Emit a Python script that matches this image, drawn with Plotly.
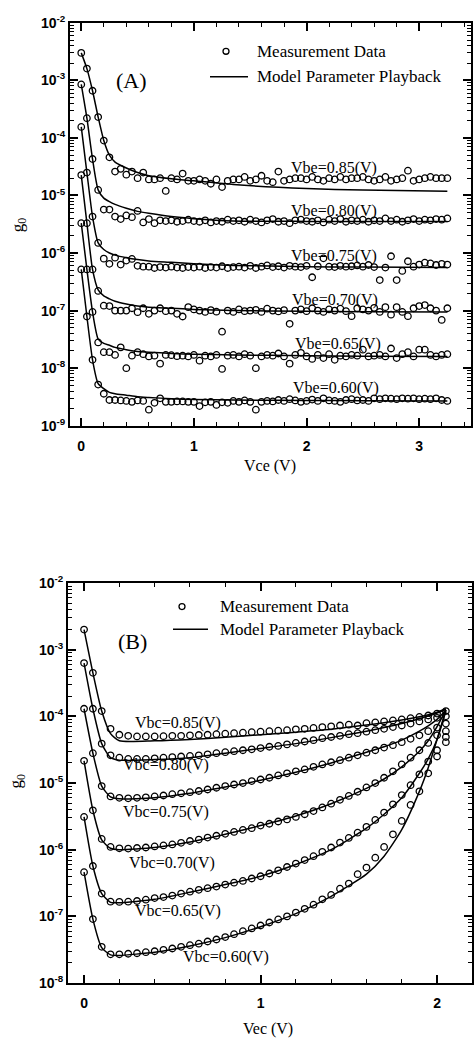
import plotly.graph_objects as go

# ---------------- data: panel (A) ----------------
VCE = [0.00, 0.05, 0.10, 0.15, 0.20, 0.25, 0.30, 0.35, 0.40, 0.45,
       0.50, 0.55, 0.60, 0.65, 0.70, 0.75, 0.80, 0.85, 0.90, 0.95,
       1.00, 1.05, 1.10, 1.15, 1.20, 1.25, 1.30, 1.35, 1.40, 1.45,
       1.50, 1.55, 1.60, 1.65, 1.70, 1.75, 1.80, 1.85, 1.90, 1.95,
       2.00, 2.05, 2.10, 2.15, 2.20, 2.25, 2.30, 2.35, 2.40, 2.45,
       2.50, 2.55, 2.60, 2.65, 2.70, 2.75, 2.80, 2.85, 2.90, 2.95,
       3.00, 3.05, 3.10, 3.15, 3.20, 3.25]

GA_085 = [3.0e-3, 1.6e-3, 6.6e-4, 2.3e-4, 9.0e-5, 4.6e-5, 2.6e-5, 2.9e-5, 2.3e-5, 2.6e-5,
          2.0e-5, 2.5e-5, 1.9e-5, 1.9e-5, 2.0e-5, 1.2e-5, 2.0e-5, 1.9e-5, 2.4e-5, 1.8e-5,
          1.8e-5, 1.9e-5, 1.8e-5, 1.6e-5, 1.9e-5, 1.4e-5, 1.8e-5, 1.9e-5, 1.9e-5, 2.1e-5,
          1.8e-5, 1.9e-5, 2.2e-5, 1.8e-5, 1.7e-5, 2.6e-5, 1.8e-5, 1.9e-5, 2.0e-5, 2.0e-5,
          1.9e-5, 2.1e-5, 1.9e-5, 1.8e-5, 2.0e-5, 1.9e-5, 2.1e-5, 1.9e-5, 2.0e-5, 2.0e-5,
          2.1e-5, 1.9e-5, 1.8e-5, 1.9e-5, 2.1e-5, 1.8e-5, 1.9e-5, 2.0e-5, 2.7e-5, 1.8e-5,
          1.9e-5, 2.0e-5, 2.1e-5, 2.0e-5, 2.0e-5, 2.0e-5]
GA_080 = [8.5e-4, 2.2e-4, 4.3e-5, 1.25e-5, 5.7e-6, 5.7e-6, 4.3e-6, 3.9e-6, 4.5e-6, 4.2e-6,
          5.4e-6, 3.4e-6, 3.9e-6, 3.3e-6, 3.7e-6, 3.6e-6, 3.7e-6, 3.5e-6, 3.6e-6, 3.8e-6,
          3.6e-6, 3.5e-6, 3.7e-6, 3.4e-6, 3.6e-6, 3.5e-6, 3.8e-6, 3.6e-6, 3.7e-6, 3.5e-6,
          3.8e-6, 3.6e-6, 3.4e-6, 3.7e-6, 3.9e-6, 3.5e-6, 3.6e-6, 3.3e-6, 3.7e-6, 3.8e-6,
          3.6e-6, 3.5e-6, 3.7e-6, 3.4e-6, 3.8e-6, 3.6e-6, 3.9e-6, 3.5e-6, 3.7e-6, 3.6e-6,
          3.8e-6, 3.5e-6, 3.7e-6, 3.6e-6, 4.0e-6, 3.6e-6, 3.8e-6, 3.5e-6, 3.7e-6, 3.9e-6,
          3.6e-6, 3.8e-6, 3.7e-6, 3.9e-6, 3.8e-6, 4.0e-6]
GA_075 = [1.55e-4, 2.5e-5, 4.3e-6, 1.5e-6, 8.0e-7, 6.5e-7, 8.3e-7, 6.3e-7, 7.4e-7, 7.9e-7,
          6.0e-7, 5.8e-7, 5.8e-7, 5.5e-7, 5.7e-7, 5.6e-7, 5.8e-7, 5.6e-7, 5.5e-7, 5.7e-7,
          5.6e-7, 5.8e-7, 5.5e-7, 5.7e-7, 5.6e-7, 5.9e-7, 5.5e-7, 5.7e-7, 5.8e-7, 5.6e-7,
          6.0e-7, 5.5e-7, 5.8e-7, 6.1e-7, 5.7e-7, 5.9e-7, 5.6e-7, 6.0e-7, 5.8e-7, 5.7e-7,
          6.0e-7, 3.8e-7, 5.9e-7, 8.1e-7, 5.8e-7, 5.7e-7, 6.0e-7, 5.8e-7, 5.9e-7, 6.1e-7,
          5.8e-7, 6.2e-7, 5.7e-7, 3.4e-7, 5.6e-7, 8.8e-7, 3.4e-7, 4.9e-7, 7.2e-7, 5.8e-7,
          6.3e-7, 6.8e-7, 6.6e-7, 6.2e-7, 6.5e-7, 6.3e-7]
GA_070 = [2.26e-5, 3.3e-6, 5.2e-7, 2.2e-7, 1.22e-7, 1.2e-7, 1.0e-7, 1.0e-7, 1.0e-7, 1.1e-7,
          9.4e-8, 1.1e-7, 8.8e-8, 1.0e-7, 1.1e-7, 9.8e-8, 1.0e-7, 8.8e-8, 7.9e-8, 1.15e-7,
          1.05e-7, 1.0e-7, 9.5e-8, 1.02e-7, 9.6e-8, 4.3e-8, 1.0e-7, 9.5e-8, 1.05e-7, 9.8e-8,
          1.0e-7, 1.03e-7, 9.5e-8, 1.08e-7, 1.0e-7, 9.7e-8, 1.02e-7, 5.9e-8, 1.0e-7, 1.05e-7,
          9.8e-8, 1.1e-7, 1.0e-7, 9.5e-8, 1.05e-7, 1.0e-7, 1.08e-7, 9.8e-8, 8.0e-8, 1.1e-7,
          1.05e-7, 1.0e-7, 1.12e-7, 9.5e-8, 1.15e-7, 8.5e-8, 1.15e-7, 9.5e-8, 8.0e-8, 1.1e-7,
          1.2e-7, 1.25e-7, 1.1e-7, 1.0e-7, 6.9e-8, 1.1e-7]
GA_065 = [3.3e-6, 5.2e-7, 9.5e-8, 2.8e-8, 1.9e-8, 1.9e-8, 1.7e-8, 2.3e-8, 1.0e-8, 1.65e-8,
          1.9e-8, 1.75e-8, 1.6e-8, 1.65e-8, 1.2e-8, 1.7e-8, 1.68e-8, 1.62e-8, 1.65e-8, 1.6e-8,
          1.7e-8, 1.35e-8, 1.65e-8, 1.6e-8, 1.7e-8, 9.7e-9, 1.65e-8, 1.7e-8, 1.6e-8, 1.75e-8,
          1.65e-8, 1.0e-8, 1.6e-8, 1.7e-8, 1.65e-8, 1.8e-8, 1.6e-8, 1.2e-8, 1.7e-8, 1.85e-8,
          1.6e-8, 1.45e-8, 1.7e-8, 1.5e-8, 1.75e-8, 1.4e-8, 1.65e-8, 1.6e-8, 1.7e-8, 1.65e-8,
          2.1e-8, 1.6e-8, 1.65e-8, 1.7e-8, 1.6e-8, 2.2e-8, 1.5e-8, 1.75e-8, 1.9e-8, 1.6e-8,
          2.1e-8, 2.1e-8, 1.7e-8, 1.6e-8, 1.7e-8, 1.75e-8]
GA_060 = [5.2e-7, 7.9e-8, 1.4e-8, 5.2e-9, 3.6e-9, 2.8e-9, 2.8e-9, 2.75e-9, 2.7e-9, 2.6e-9,
          2.75e-9, 2.7e-9, 1.9e-9, 2.5e-9, 3.0e-9, 2.6e-9, 2.6e-9, 2.65e-9, 2.65e-9, 2.6e-9,
          2.6e-9, 2.2e-9, 2.55e-9, 2.6e-9, 2.3e-9, 2.55e-9, 2.5e-9, 2.7e-9, 2.6e-9, 2.75e-9,
          2.6e-9, 1.9e-9, 2.6e-9, 2.7e-9, 2.65e-9, 2.8e-9, 2.7e-9, 2.9e-9, 2.75e-9, 2.6e-9,
          2.7e-9, 2.85e-9, 2.7e-9, 3.0e-9, 2.75e-9, 2.7e-9, 2.6e-9, 2.8e-9, 2.9e-9, 2.75e-9,
          2.8e-9, 2.7e-9, 3.0e-9, 2.9e-9, 3.0e-9, 2.95e-9, 2.9e-9, 3.0e-9, 2.95e-9, 3.0e-9,
          2.9e-9, 2.95e-9, 2.9e-9, 3.0e-9, 2.8e-9, 2.7e-9]

LX_A = [0.0, 0.05, 0.10, 0.15, 0.20, 0.25, 0.30, 0.40, 0.50, 0.60, 0.80, 1.00, 1.35, 2.00, 2.50, 3.25]
LA_085 = [3.0e-3, 1.6e-3, 6.6e-4, 2.3e-4, 9.0e-5, 5.0e-5, 3.8e-5, 3.0e-5, 2.5e-5, 2.2e-5, 1.95e-5, 1.8e-5, 1.55e-5, 1.32e-5, 1.24e-5, 1.18e-5]
LA_080 = [8.5e-4, 2.2e-4, 4.3e-5, 1.25e-5, 9.0e-6, 7.8e-6, 7.0e-6, 6.0e-6, 5.3e-6, 4.9e-6, 4.3e-6, 3.95e-6, 3.6e-6, 3.55e-6, 3.55e-6, 3.55e-6]
LA_075 = [1.55e-4, 2.5e-5, 4.3e-6, 1.5e-6, 1.15e-6, 1.0e-6, 9.2e-7, 8.3e-7, 7.7e-7, 7.3e-7, 6.9e-7, 6.5e-7, 6.1e-7, 5.8e-7, 5.7e-7, 5.6e-7]
LA_070 = [2.26e-5, 3.3e-6, 5.2e-7, 2.3e-7, 1.8e-7, 1.6e-7, 1.45e-7, 1.3e-7, 1.2e-7, 1.15e-7, 1.1e-7, 1.05e-7, 1.0e-7, 9.8e-8, 9.6e-8, 9.5e-8]
LA_065 = [3.3e-6, 5.2e-7, 9.5e-8, 3.2e-8, 2.7e-8, 2.5e-8, 2.3e-8, 2.1e-8, 1.95e-8, 1.9e-8, 1.8e-8, 1.75e-8, 1.7e-8, 1.65e-8, 1.62e-8, 1.6e-8]
LA_060 = [5.2e-7, 7.9e-8, 1.4e-8, 5.4e-9, 4.4e-9, 3.8e-9, 3.6e-9, 3.4e-9, 3.2e-9, 3.1e-9, 2.95e-9, 2.85e-9, 2.8e-9, 2.75e-9, 2.72e-9, 2.7e-9]

LABELS_A = ["Vbe=0.85(V)", "Vbe=0.80(V)", "Vbe=0.75(V)", "Vbe=0.70(V)", "Vbe=0.65(V)", "Vbe=0.60(V)"]

# ---------------- data: panel (B) ----------------
VEC = [0.00, 0.05, 0.10, 0.15, 0.20, 0.25, 0.30, 0.35, 0.40, 0.45,
       0.50, 0.55, 0.60, 0.65, 0.70, 0.75, 0.80, 0.85, 0.90, 0.95,
       1.00, 1.05, 1.10, 1.15, 1.20, 1.25, 1.30, 1.35, 1.40, 1.45,
       1.50, 1.55, 1.60, 1.65, 1.70, 1.75, 1.80, 1.85, 1.90, 1.95,
       2.00, 2.05]

GB_085 = [2.0e-3, 4.5e-4, 1.2e-4, 6.5e-5, 5.3e-5, 5.1e-5, 5.0e-5, 5.0e-5, 5.0e-5, 5.05e-5,
          5.1e-5, 5.1e-5, 5.2e-5, 5.25e-5, 5.3e-5, 5.4e-5, 5.5e-5, 5.6e-5, 5.7e-5, 5.8e-5,
          5.9e-5, 6.0e-5, 6.1e-5, 6.2e-5, 6.4e-5, 6.5e-5, 6.7e-5, 6.9e-5, 7.1e-5, 7.3e-5,
          7.5e-5, 7.3e-5, 7.9e-5, 8.1e-5, 8.4e-5, 8.7e-5, 9.0e-5, 9.4e-5, 9.8e-5, 1.03e-4,
          1.1e-4, 1.2e-4]
GB_080 = [6.3e-4, 1.3e-4, 3.9e-5, 2.6e-5, 2.4e-5, 2.3e-5, 2.3e-5, 2.3e-5, 2.35e-5, 2.4e-5,
          2.45e-5, 2.5e-5, 2.55e-5, 2.6e-5, 2.7e-5, 2.8e-5, 2.9e-5, 3.0e-5, 3.1e-5, 3.2e-5,
          3.35e-5, 3.5e-5, 3.6e-5, 3.8e-5, 4.0e-5, 4.2e-5, 4.4e-5, 4.7e-5, 4.9e-5, 5.1e-5,
          5.4e-5, 5.6e-5, 5.9e-5, 6.2e-5, 6.5e-5, 6.9e-5, 7.3e-5, 7.8e-5, 8.4e-5, 9.0e-5,
          9.5e-5, 1.0e-4]
GB_075 = [1.3e-4, 2.8e-5, 9.0e-6, 6.3e-6, 6.0e-6, 5.9e-6, 6.0e-6, 6.1e-6, 6.3e-6, 6.5e-6,
          6.8e-6, 7.0e-6, 7.3e-6, 7.6e-6, 8.0e-6, 8.5e-6, 9.0e-6, 9.5e-6, 1.0e-5, 1.07e-5,
          1.13e-5, 1.2e-5, 1.3e-5, 1.4e-5, 1.5e-5, 1.6e-5, 1.75e-5, 1.9e-5, 2.05e-5, 2.2e-5,
          2.4e-5, 2.6e-5, 2.85e-5, 3.1e-5, 3.4e-5, 3.7e-5, 4.1e-5, 4.6e-5, 5.2e-5, 6.0e-5,
          6.8e-5, 7.8e-5]
GB_070 = [2.15e-5, 3.9e-6, 1.45e-6, 1.1e-6, 1.05e-6, 1.04e-6, 1.06e-6, 1.08e-6, 1.12e-6, 1.16e-6,
          1.2e-6, 1.27e-6, 1.35e-6, 1.42e-6, 1.52e-6, 1.62e-6, 1.73e-6, 1.85e-6, 1.98e-6, 2.1e-6,
          2.3e-6, 2.45e-6, 2.65e-6, 2.85e-6, 3.1e-6, 3.4e-6, 3.8e-6, 4.3e-6, 4.9e-6, 5.6e-6,
          6.4e-6, 7.4e-6, 8.6e-6, 1.0e-5, 1.2e-5, 1.5e-5, 1.9e-5, 2.4e-5, 3.1e-5, 4.0e-5,
          5.2e-5, 6.0e-5]
GB_065 = [3.1e-6, 5.7e-7, 2.2e-7, 1.66e-7, 1.65e-7, 1.66e-7, 1.7e-7, 1.78e-7, 1.88e-7, 1.95e-7,
          2.05e-7, 2.2e-7, 2.35e-7, 2.5e-7, 2.65e-7, 2.8e-7, 3.0e-7, 3.2e-7, 3.4e-7, 3.7e-7,
          4.0e-7, 4.4e-7, 4.9e-7, 5.5e-7, 6.2e-7, 7.0e-7, 8.0e-7, 9.3e-7, 1.08e-6, 1.28e-6,
          1.5e-6, 1.8e-6, 2.2e-6, 2.8e-6, 3.6e-6, 4.8e-6, 6.6e-6, 9.3e-6, 1.35e-5, 2.1e-5,
          3.1e-5, 4.9e-5]
GB_060 = [4.6e-7, 9.1e-8, 3.5e-8, 2.7e-8, 2.7e-8, 2.75e-8, 2.8e-8, 2.9e-8, 3.0e-8, 3.15e-8,
          3.3e-8, 3.5e-8, 3.7e-8, 3.9e-8, 4.2e-8, 4.5e-8, 4.9e-8, 5.4e-8, 6.0e-8, 6.6e-8,
          7.3e-8, 8.1e-8, 9.0e-8, 1.0e-7, 1.14e-7, 1.3e-7, 1.5e-7, 1.8e-7, 2.1e-7, 2.6e-7,
          3.1e-7, 4.3e-7, 5.4e-7, 7.6e-7, 1.1e-6, 1.7e-6, 2.7e-6, 4.7e-6, 7.5e-6, 1.4e-5,
          2.5e-5, 4.1e-5]

LX_B = [0.0, 0.05, 0.10, 0.15, 0.20, 0.40, 0.60, 0.80, 1.00, 1.20, 1.40, 1.60, 1.70, 1.80, 1.90, 1.95, 2.00, 2.05]
LB_085 = [2.0e-3, 4.5e-4, 1.2e-4, 5.5e-5, 4.3e-5, 4.3e-5, 4.5e-5, 4.85e-5, 5.3e-5, 5.8e-5, 6.4e-5, 7.4e-5, 8.0e-5, 8.8e-5, 9.9e-5, 1.06e-4, 1.15e-4, 1.3e-4]
LB_080 = [6.3e-4, 1.3e-4, 3.9e-5, 2.4e-5, 2.2e-5, 2.25e-5, 2.4e-5, 2.8e-5, 3.3e-5, 3.9e-5, 4.8e-5, 6.0e-5, 6.8e-5, 7.8e-5, 9.2e-5, 1.01e-4, 1.12e-4, 1.28e-4]
LB_075 = [1.3e-4, 2.8e-5, 9.0e-6, 6.2e-6, 5.8e-6, 6.0e-6, 7.0e-6, 8.7e-6, 1.1e-5, 1.45e-5, 2.0e-5, 2.9e-5, 3.5e-5, 4.4e-5, 6.0e-5, 7.2e-5, 9.0e-5, 1.25e-4]
LB_070 = [2.15e-5, 3.9e-6, 1.4e-6, 1.05e-6, 1.0e-6, 1.08e-6, 1.3e-6, 1.7e-6, 2.3e-6, 3.2e-6, 4.9e-6, 8.3e-6, 1.15e-5, 1.75e-5, 3.0e-5, 4.3e-5, 7.0e-5, 1.25e-4]
LB_065 = [3.1e-6, 5.7e-7, 2.2e-7, 1.62e-7, 1.6e-7, 1.8e-7, 2.3e-7, 3.0e-7, 4.0e-7, 6.0e-7, 1.0e-6, 2.1e-6, 3.4e-6, 6.0e-6, 1.4e-5, 2.3e-5, 4.5e-5, 1.2e-4]
LB_060 = [4.6e-7, 9.1e-8, 3.4e-8, 2.65e-8, 2.6e-8, 2.9e-8, 3.6e-8, 4.8e-8, 7.0e-8, 1.1e-7, 2.0e-7, 4.3e-7, 8.0e-7, 2.0e-6, 7.5e-6, 1.7e-5, 4.5e-5, 1.25e-4]

LABELS_B = ["Vbc=0.85(V)", "Vbc=0.80(V)", "Vbc=0.75(V)", "Vbc=0.70(V)", "Vbc=0.65(V)", "Vbc=0.60(V)"]

YTICK_A = [1e-9, 1e-8, 1e-7, 1e-6, 1e-5, 1e-4, 1e-3, 1e-2]
YTEXT_A = ["10<sup>-9</sup>", "10<sup>-8</sup>", "10<sup>-7</sup>", "10<sup>-6</sup>",
           "10<sup>-5</sup>", "10<sup>-4</sup>", "10<sup>-3</sup>", "10<sup>-2</sup>"]
YTICK_B = [1e-8, 1e-7, 1e-6, 1e-5, 1e-4, 1e-3, 1e-2]
YTEXT_B = ["10<sup>-8</sup>", "10<sup>-7</sup>", "10<sup>-6</sup>", "10<sup>-5</sup>",
           "10<sup>-4</sup>", "10<sup>-3</sup>", "10<sup>-2</sup>"]
XTICK_A = [0, 1, 2, 3]
XTICK_B = [0, 1, 2]

# ---------------- figure ----------------
W, H = 474, 1051
def px(x):
    return x / W
def py(y):
    return 1 - y / H

SERIF = "Liberation Serif, Times New Roman, serif"
SANS = "Liberation Sans, Arial, sans-serif"

fig = go.Figure()
marker = dict(symbol="circle-open", size=6.5, color="black", line=dict(width=1.3, color="black"))
line = dict(color="black", width=1.5, shape="spline", smoothing=0.6)

for ys in [GA_085, GA_080, GA_075, GA_070, GA_065, GA_060]:
    fig.add_trace(go.Scatter(x=VCE, y=ys, mode="markers", marker=marker,
                             xaxis="x", yaxis="y", showlegend=False, hoverinfo="skip"))
for ys in [LA_085, LA_080, LA_075, LA_070, LA_065, LA_060]:
    fig.add_trace(go.Scatter(x=LX_A, y=ys, mode="lines", line=line,
                             xaxis="x", yaxis="y", showlegend=False, hoverinfo="skip"))
for ys in [GB_085, GB_080, GB_075, GB_070, GB_065, GB_060]:
    fig.add_trace(go.Scatter(x=VEC, y=ys, mode="markers", marker=marker,
                             xaxis="x2", yaxis="y2", showlegend=False, hoverinfo="skip"))
for ys in [LB_085, LB_080, LB_075, LB_070, LB_065, LB_060]:
    fig.add_trace(go.Scatter(x=LX_B, y=ys, mode="lines", line=line,
                             xaxis="x2", yaxis="y2", showlegend=False, hoverinfo="skip"))

tickfont = dict(family=SANS, size=14, color="black", weight="bold")
common = dict(showline=True, linecolor="black", linewidth=2, mirror="allticks",
              ticks="inside", ticklen=8, tickwidth=1.5, tickcolor="black",
              showgrid=False, zeroline=False, tickfont=tickfont)

fig.update_layout(
    width=W, height=H, margin=dict(l=0, r=0, t=0, b=0),
    paper_bgcolor="white", plot_bgcolor="white", showlegend=False,
    xaxis=dict(domain=[px(70), px(471)], anchor="y", range=[-0.1, 3.46],
               tickmode="array", tickvals=XTICK_A, ticktext=[str(v) for v in XTICK_A],
               minor=dict(dtick=0.2, tick0=0, ticks="inside", ticklen=4, tickwidth=1, tickcolor="black"),
               ticklabelstandoff=6, **common),
    yaxis=dict(domain=[py(423), py(13)], anchor="x", type="log", range=[-9, -2],
               tickmode="array", tickvals=YTICK_A, ticktext=YTEXT_A,
               minor=dict(dtick="D1", ticks="inside", ticklen=4, tickwidth=1, tickcolor="black"),
               **common),
    xaxis2=dict(domain=[px(68), px(472)], anchor="y2", range=[-0.091, 2.198],
                tickmode="array", tickvals=XTICK_B, ticktext=[str(v) for v in XTICK_B],
                minor=dict(dtick=0.2, tick0=0, ticks="inside", ticklen=4, tickwidth=1, tickcolor="black"),
                ticklabelstandoff=6, **common),
    yaxis2=dict(domain=[py(990), py(583)], anchor="x2", type="log", range=[-8, -2],
                tickmode="array", tickvals=YTICK_B, ticktext=YTEXT_B,
                minor=dict(dtick="D1", ticks="inside", ticklen=4, tickwidth=1, tickcolor="black"),
                **common),
)

ann = []
def text(x, y, s, size=16, xanchor="center", angle=0, family=SERIF):
    ann.append(dict(x=px(x), y=py(y), xref="paper", yref="paper", text=s, showarrow=False,
                    xanchor=xanchor, yanchor="middle", textangle=angle,
                    font=dict(family=family, size=size, color="black")))

# curve labels
for lab, (cx, cy) in zip(LABELS_A, [(334, 161), (334, 205), (334, 250), (335, 295), (338, 340), (336, 385)]):
    text(cx, cy, lab)
for lab, (cx, cy) in zip(LABELS_B, [(178, 725), (166, 768), (166, 816), (172, 868), (178, 917), (226, 963)]):
    text(cx, cy, lab)

# panel letters
text(131, 72, "(A)", size=22)
text(132, 643, "(B)", size=22)

# legends
text(255, 42, "Measurement Data", size=17, xanchor="left")
text(255, 68, "Model Parameter Playback", size=17, xanchor="left")
text(218, 607, "Measurement Data", size=17, xanchor="left")
text(218, 630, "Model Parameter Playback", size=17, xanchor="left")

# axis titles
text(270, 464, "Vce (V)", size=16)
text(268, 1037, "Vec (V)", size=16)
text(19, 219, "g<sub>0</sub>", size=17, angle=-90)
text(17, 785, "g<sub>0</sub>", size=17, angle=-90)

shapes = []
def circle(cx, cy, r=3):
    shapes.append(dict(type="circle", xref="paper", yref="paper",
                       x0=px(cx - r), x1=px(cx + r), y0=py(cy + r), y1=py(cy - r),
                       line=dict(color="black", width=1.3)))
def hline(x0, x1, y):
    shapes.append(dict(type="line", xref="paper", yref="paper",
                       x0=px(x0), x1=px(x1), y0=py(y), y1=py(y),
                       line=dict(color="black", width=1.5)))
circle(226, 42)
hline(210, 248, 68)
circle(182, 607)
hline(173, 208, 630)

fig.update_layout(annotations=ann, shapes=shapes)
fig.write_html("out.html")
